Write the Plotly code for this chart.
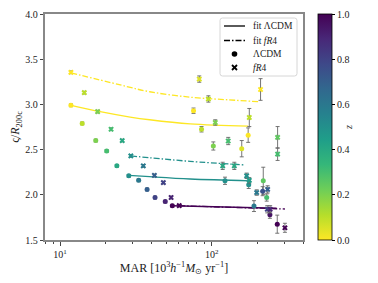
import plotly.graph_objects as go
from plotly.colors import sample_colorscale
import numpy as np

# ---- data: LCDM (circles) ----
mar_lcdm = [11.8, 14.0, 17.2, 20.3, 23.7, 28.4, 33.0, 37.5, 42.3, 49.4, 55.0,
            75.9, 85.7, 174, 102.5, 157.8, 122.4, 175.4, 218.8, 216.8, 230.5, 190, 242, 270.6]
r_lcdm = [2.99, 2.79, 2.60, 2.485, 2.32, 2.21, 2.16, 2.06, 1.97, 1.925, 1.88,
          2.93, 2.725, 2.66, 2.54, 2.51, 2.155, 2.11, 2.155, 2.04, 1.97, 1.875, 1.78, 1.675]
err_lcdm = [0.015] * 11 + [0.03, 0.03, 0.08, 0.045, 0.09, 0.04, 0.04, 0.15, 0.05, 0.04, 0.06, 0.04, 0.1]
z_lcdm = [0, 0.1, 0.2, 0.3, 0.4, 0.5, 0.6, 0.7, 0.8, 0.9, 1.0,
          0.0, 0.1, 0.0, 0.2, 0.05, 0.5, 0.5, 0.25, 0.75, 0.3, 0.6, 0.95, 1.0]

# ---- data: fR4 (crosses) ----
mar_fr4 = [11.8, 14.45, 17.7, 21.7, 25.7, 29.3, 35.4, 41.9, 48.0, 54.0, 61.1,
           82.8, 95.1, 105.6, 210, 177, 272, 272, 128.5, 118.2, 141, 170, 177, 198, 233.8, 232.6, 243, 304]
r_fr4 = [3.355, 3.13, 2.92, 2.725, 2.60, 2.43, 2.32, 2.215, 2.135, 1.97, 1.88,
         3.28, 3.06, 2.80, 3.165, 2.855, 2.635, 2.45, 2.595, 2.32, 2.32, 2.21, 2.16, 2.025, 2.06, 1.84, 1.84, 1.635]
err_fr4 = [0.015] * 11 + [0.035, 0.035, 0.03, 0.12, 0.1, 0.12, 0.07, 0.04, 0.04, 0.04, 0.03, 0.03, 0.03, 0.04, 0.04, 0.04, 0.05]
z_fr4 = [0, 0.1, 0.2, 0.3, 0.4, 0.5, 0.6, 0.7, 0.8, 0.9, 1.0,
         0.05, 0.1, 0.2, 0.0, 0.1, 0.25, 0.3, 0.3, 0.4, 0.4, 0.5, 0.45, 0.6, 0.7, 0.8, 0.9, 1.0]

# ---- fit curves ----
fit_lcdm_z0_mar = [11.8, 18.4, 29, 39, 72, 174]
fit_lcdm_z0_r = [2.99, 2.92, 2.86, 2.83, 2.785, 2.76]
fit_fr4_z0_mar = [11.8, 25, 39, 72, 130, 205]
fit_fr4_z0_r = [3.35, 3.215, 3.14, 3.08, 3.05, 3.03]
fit_lcdm_z05_mar = [28.4, 39, 72, 179]
fit_lcdm_z05_r = [2.215, 2.20, 2.175, 2.155]
fit_fr4_z05_mar = [29.3, 39, 72, 166]
fit_fr4_z05_r = [2.43, 2.41, 2.37, 2.33]
fit_lcdm_z1_mar = [55, 268]
fit_lcdm_z1_r = [1.879, 1.851]
fit_fr4_z1_mar = [61.1, 304]
fit_fr4_z1_r = [1.879, 1.843]

# legend labels
legend_labels = ["fit ΛCDM", "fit <i>fR</i>4", "ΛCDM", "<i>fR</i>4"]

CS = "Viridis_r"
FONT = "Liberation Serif"
DASHDOT = "6px,2px,1.5px,2px"

W, H = 378, 283
ML, MR, MT, MB = 45, 75, 14, 43
PW, PH = W - ML - MR, H - MT - MB

def px(xp):
    return (xp - ML) / PW

def py(yp):
    return 1 - (yp - MT) / PH

def zcol(z):
    return sample_colorscale(CS, [z])[0]

fig = go.Figure()

fits = [
    (fit_lcdm_z0_mar, fit_lcdm_z0_r, 0.0, "solid"),
    (fit_fr4_z0_mar, fit_fr4_z0_r, 0.0, DASHDOT),
    (fit_lcdm_z05_mar, fit_lcdm_z05_r, 0.5, "solid"),
    (fit_fr4_z05_mar, fit_fr4_z05_r, 0.5, DASHDOT),
    (fit_lcdm_z1_mar, fit_lcdm_z1_r, 1.0, "solid"),
    (fit_fr4_z1_mar, fit_fr4_z1_r, 1.0, DASHDOT),
]
for xs, ys, z, dash in fits:
    fig.add_trace(go.Scatter(x=xs, y=ys, mode="lines", showlegend=False,
                             line=dict(color=zcol(z), width=1.3, dash=dash, shape="spline"),
                             hoverinfo="skip"))

fig.add_trace(go.Scatter(
    x=mar_lcdm, y=r_lcdm, mode="markers", showlegend=False,
    error_y=dict(type="data", array=err_lcdm, color="#666666", thickness=0.9, width=2),
    marker=dict(symbol="circle", size=5, color=z_lcdm, colorscale=CS, cmin=0, cmax=1,
                line=dict(width=0),
                showscale=True,
                colorbar=dict(x=1.058, xanchor="left", y=0.5, yanchor="middle",
                              len=1, lenmode="fraction", thickness=14,
                              xpad=0, ypad=0,
                              outlinecolor="black", outlinewidth=0.8,
                              ticks="outside", ticklen=3, tickcolor="black",
                              tickvals=[0, 0.2, 0.4, 0.6, 0.8, 1.0],
                              ticktext=["0.0", "0.2", "0.4", "0.6", "0.8", "1.0"],
                              tickfont=dict(family=FONT, size=10, color="#222"),
                              title=dict(text="<i>z</i>", side="right",
                                         font=dict(family=FONT, size=10, color="#222"))))))

fig.add_trace(go.Scatter(
    x=mar_fr4, y=r_fr4, mode="markers", showlegend=False,
    error_y=dict(type="data", array=err_fr4, color="#666666", thickness=0.9, width=2),
    marker=dict(symbol="x", size=5, color=z_fr4, colorscale=CS, cmin=0, cmax=1,
                line=dict(width=0))))

# ---- hand-made legend (matplotlib-like, compact) ----
lx0, lx1, ly0, ly1 = 220, 297, 18, 76
r = 2.5
rx, ry = r / PW, r / PH
x0, x1, y0, y1 = px(lx0), px(lx1), py(ly1), py(ly0)
path = (f"M {x0+rx},{y0} L {x1-rx},{y0} Q {x1},{y0} {x1},{y0+ry} "
        f"L {x1},{y1-ry} Q {x1},{y1} {x1-rx},{y1} L {x0+rx},{y1} Q {x0},{y1} {x0},{y1-ry} "
        f"L {x0},{y0+ry} Q {x0},{y0} {x0+rx},{y0} Z")
fig.add_shape(type="path", path=path, xref="paper", yref="paper",
              fillcolor="rgba(255,255,255,0.85)", line=dict(color="#cccccc", width=0.8), layer="above")

row_y = [26, 40.5, 54, 67.5]
mx = 234.5
fig.add_shape(type="line", xref="paper", yref="paper", x0=px(224), x1=px(245),
              y0=py(row_y[0]), y1=py(row_y[0]), line=dict(color="black", width=1.3), layer="above")
fig.add_shape(type="line", xref="paper", yref="paper", x0=px(224), x1=px(245),
              y0=py(row_y[1]), y1=py(row_y[1]), line=dict(color="black", width=1.3, dash=DASHDOT),
              layer="above")
# circle marker
fig.add_shape(type="circle", xref="paper", yref="paper",
              x0=px(mx - 2.8), x1=px(mx + 2.8), y0=py(row_y[2] + 2.8), y1=py(row_y[2] - 2.8),
              fillcolor="black", line=dict(color="black", width=0), layer="above")
# x marker
for dx in (-1, 1):
    fig.add_shape(type="line", xref="paper", yref="paper",
                  x0=px(mx - 2.5), x1=px(mx + 2.5),
                  y0=py(row_y[3] - 2.5 * dx), y1=py(row_y[3] + 2.5 * dx),
                  line=dict(color="black", width=1.8), layer="above")
for lab, yy in zip(legend_labels, row_y):
    fig.add_annotation(x=px(251), y=py(yy), xref="paper", yref="paper", text=lab,
                       showarrow=False, xanchor="left", yanchor="middle",
                       font=dict(family=FONT, size=9.5, color="#222"))

minor_vals = [8, 9, 20, 30, 40, 50, 60, 70, 80, 90, 200, 300, 400]

fig.update_layout(
    width=W, height=H,
    margin=dict(l=ML, r=MR, t=MT, b=MB, autoexpand=False),
    paper_bgcolor="white", plot_bgcolor="white",
    font=dict(family=FONT, size=10, color="#222"),
    showlegend=False,
    xaxis=dict(type="log", range=[np.log10(7.96), np.log10(400)], automargin=False,
               showgrid=False, zeroline=False,
               showline=True, linecolor="#888888", linewidth=1.5, mirror=True,
               ticks="outside", ticklen=4, tickcolor="#444",
               tickvals=[10, 100], ticktext=["10<sup>1</sup>", "10<sup>2</sup>"],
               minor=dict(tickvals=minor_vals, ticks="outside", ticklen=2, tickcolor="#444"),
               tickfont=dict(family=FONT, size=10),
               title=dict(text="MAR [10<sup>3</sup><i>h</i><sup>−1</sup><i>M</i><sub>⊙</sub> yr<sup>−1</sup>]",
                          font=dict(family=FONT, size=12), standoff=1)),
    yaxis=dict(range=[1.5, 4.0], showgrid=False, zeroline=False, automargin=False,
               showline=True, linecolor="#888888", linewidth=1.5, mirror=True,
               ticks="outside", ticklen=3.5, tickcolor="#444",
               tickvals=[1.5, 2.0, 2.5, 3.0, 3.5, 4.0],
               ticktext=["1.5", "2.0", "2.5", "3.0", "3.5", "4.0"],
               tickfont=dict(family=FONT, size=10),
               title=dict(text="ς/<i>R</i><sub>200c</sub>",
                          font=dict(family=FONT, size=12), standoff=3)),
)

fig.write_html("out.html", post_script="document.body.style.margin='0';",
               config={"displayModeBar": False})
